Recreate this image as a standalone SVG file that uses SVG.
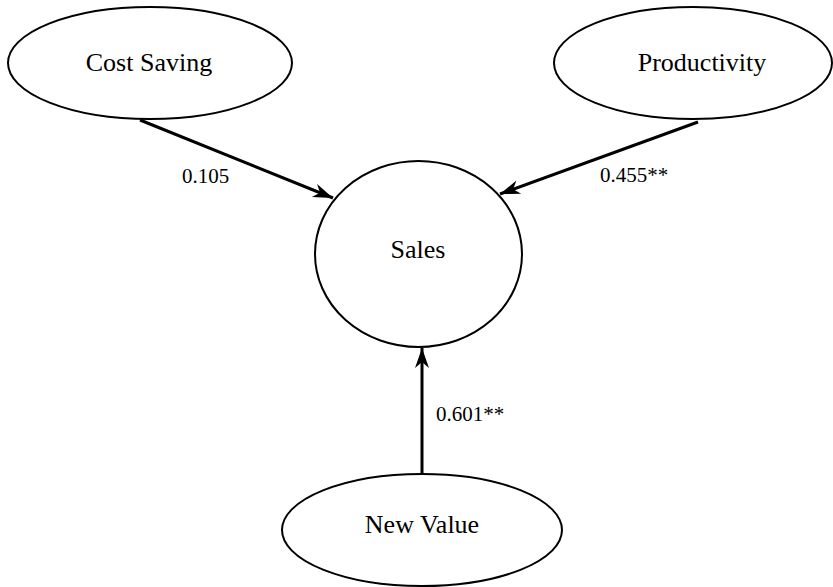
<svg xmlns="http://www.w3.org/2000/svg" width="833" height="587" viewBox="0 0 833 587">
<style>
.node{fill:#fff;stroke:#000;stroke-width:2}
.edge{stroke:#000;stroke-width:3;fill:none}
</style>
<defs>
<marker id="arr" markerUnits="userSpaceOnUse" markerWidth="24" markerHeight="18" refX="22" refY="8" orient="auto" viewBox="0 0 24 18">
<path d="M22,8 L2,1 L8,8 L2,15 Z" fill="#000"/>
</marker>
</defs>
<rect width="833" height="587" fill="#fff"/>
<g id="connectors">
<path class="edge" d="M140,120 L333,198" marker-end="url(#arr)"/>
<path class="edge" d="M698,122 L500,194" marker-end="url(#arr)"/>
<path class="edge" d="M422,473 L422,348" marker-end="url(#arr)"/>
</g>
<g font-family="Liberation Serif, Times New Roman, serif" font-size="26" fill="#000" text-anchor="middle">
<g id="cost-saving">
<ellipse class="node" cx="150" cy="63" rx="142" ry="56"/>
<text x="149" y="71">Cost Saving</text>
</g>
<g id="productivity">
<ellipse class="node" cx="693" cy="63" rx="139" ry="56"/>
<text x="702" y="71">Productivity</text>
</g>
<g id="sales">
<ellipse class="node" cx="418.5" cy="254" rx="103.5" ry="93"/>
<text x="418" y="258">Sales</text>
</g>
<g id="new-value">
<ellipse class="node" cx="422" cy="530" rx="140" ry="56"/>
<text x="422" y="533">New Value</text>
</g>
</g>
<g id="labels" font-family="Liberation Serif, Times New Roman, serif" font-size="21" fill="#000">
<text x="182" y="183">0.105</text>
<text x="600" y="182">0.455**</text>
<text x="436" y="421">0.601**</text>
</g>
</svg>
